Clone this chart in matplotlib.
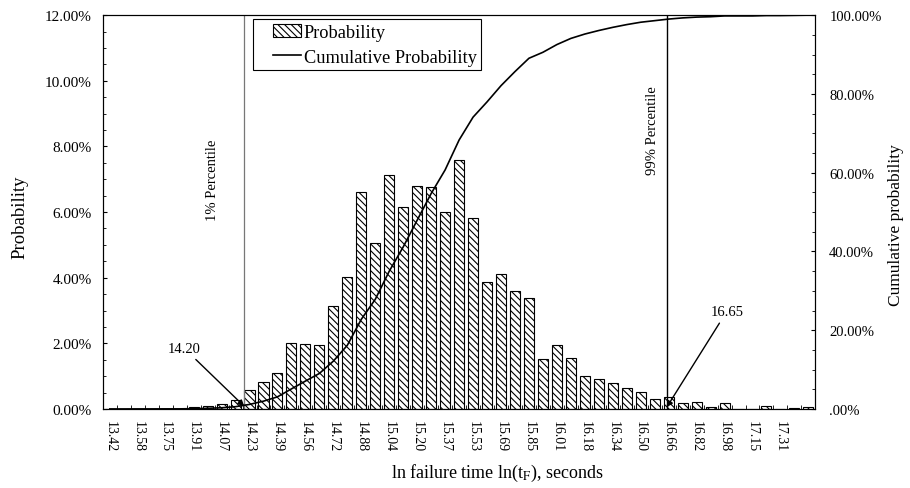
import numpy as np
import matplotlib
matplotlib.use("Agg")
import matplotlib.pyplot as plt
from matplotlib.ticker import MultipleLocator
from matplotlib.legend_handler import HandlerPatch, HandlerLine2D

plt.rcParams['font.family'] = ['Liberation Serif', 'DejaVu Serif']
plt.rcParams['mathtext.fontset'] = 'stix'
plt.rcParams['hatch.linewidth'] = 0.8

# x tick labels (every second bin), bin width from the first and last label
tick_labels = ['13.42', '13.58', '13.75', '13.91', '14.07', '14.23', '14.39', '14.56',
               '14.72', '14.88', '15.04', '15.20', '15.37', '15.53', '15.69', '15.85',
               '16.01', '16.18', '16.34', '16.50', '16.66', '16.82', '16.98', '17.15', '17.31']
n_bins = 51

# probability per bin (%)
probability = [0.01, 0.00, 0.01, 0.00, 0.01, 0.00, 0.05, 0.09, 0.14, 0.27,
               0.58, 0.82, 1.10, 2.02, 1.98, 1.94, 3.13, 4.02, 6.60, 5.07,
               7.14, 6.16, 6.80, 6.76, 6.00, 7.59, 5.81, 3.87, 4.12, 3.58,
               3.38, 1.52, 1.96, 1.56, 1.00, 0.90, 0.80, 0.64, 0.52, 0.31,
               0.37, 0.18, 0.22, 0.06, 0.17, 0.01, 0.01, 0.10, 0.01, 0.03,
               0.07]

# cumulative probability (%)
cumulative = [0.01, 0.01, 0.02, 0.02, 0.03, 0.03, 0.08, 0.17, 0.31, 0.58,
              1.16, 1.98, 3.08, 5.10, 7.08, 9.02, 12.15, 16.17, 22.77, 27.84,
              34.98, 41.14, 47.94, 54.70, 60.70, 68.29, 74.10, 77.97, 82.09, 85.67,
              89.05, 90.57, 92.53, 94.09, 95.20, 96.10, 96.90, 97.60, 98.20, 98.60,
              99.00, 99.30, 99.50, 99.60, 99.80, 99.80, 99.80, 99.90, 99.90, 99.95,
              100.0]

p_low, p_high = 14.20, 16.65

first = float(tick_labels[0])
step = (float(tick_labels[-1]) - first) / (2 * (len(tick_labels) - 1))
x = first + step * np.arange(n_bins)

fig, ax = plt.subplots(figsize=(9.1, 4.89), dpi=100)
fig.subplots_adjust(left=0.113, right=0.896, top=0.967, bottom=0.1616)

bars = ax.bar(x, probability, width=step * 0.72, color='white', edgecolor='black',
              linewidth=0.8, hatch='\\\\\\\\\\', label='Probability')
ax.set_xlim(x[0] - step / 2, x[-1] + step / 2)
ax.set_ylim(0, 12)
ax.set_yticks(np.arange(0, 13, 2))
ax.set_yticklabels(['%.2f%%' % v for v in np.arange(0, 13, 2)], fontsize=11)
ax.yaxis.set_minor_locator(MultipleLocator(0.5))
ax.set_xticks(x[:2 * len(tick_labels):2])
ax.set_xticklabels(tick_labels, rotation=-90, fontsize=10)
ax.set_xticks(x[:-1] + step / 2, minor=True)
ax.tick_params(axis='x', which='major', direction='in', length=0, pad=8)
ax.tick_params(axis='x', which='minor', direction='in', length=3)
ax.tick_params(axis='y', which='major', direction='in', length=3, pad=8)
ax.tick_params(axis='y', which='minor', direction='in', length=2)
ax.set_ylabel('Probability', fontsize=13.5)
ax.yaxis.set_label_coords(-0.104, 0.49)
ax.set_xlabel(r'ln failure time ln(t$_\mathrm{F}$), seconds', fontsize=13)
ax.xaxis.set_label_coords(0.554, -0.135)

ax2 = ax.twinx()
line, = ax2.plot(x, cumulative, color='black', linewidth=1.2, label='Cumulative Probability')
ax2.set_ylim(0, 100)
ax2.set_yticks(np.arange(0, 101, 20))
ax2.set_yticklabels(['.00%'] + ['%.2f%%' % v for v in np.arange(20, 101, 20)], fontsize=10.5)
ax2.yaxis.set_minor_locator(MultipleLocator(5))
ax2.tick_params(axis='y', which='major', direction='in', length=3, pad=10)
ax2.tick_params(axis='y', which='minor', direction='in', length=2)
ax2.set_ylabel('Cumulative probability', fontsize=12.5)
ax2.yaxis.set_label_coords(1.102, 0.47)

# percentile lines
ax.axvline(p_low, color='#777777', linewidth=0.9)
ax.axvline(p_high, color='black', linewidth=1.0)
ax.text(p_low - step * 2.3, 7.0, '1% Percentile', rotation=90, ha='center', va='center', fontsize=10.5)
ax.text(p_high - step * 1.0, 8.5, '99% Percentile', rotation=90, ha='center', va='center', fontsize=10.5)

arrow = dict(arrowstyle='-|>', color='black', linewidth=1.0, mutation_scale=9,
             shrinkA=2, shrinkB=0)
ax.annotate('%.2f' % p_low, xy=(p_low, 0.08), xytext=(p_low - step * 4.3, 1.85),
            ha='center', va='center', fontsize=10.5, arrowprops=arrow)
ax.annotate('%.2f' % p_high, xy=(p_high, 0.05), xytext=(p_high + step * 4.3, 2.97),
            ha='center', va='center', fontsize=10.5, arrowprops=arrow)

bar_handle = bars.patches[0]
leg = ax.legend([bar_handle, line], ['Probability', 'Cumulative Probability'],
                loc='upper left', bbox_to_anchor=(0.211, 0.99), borderaxespad=0,
                fontsize=13.2, frameon=True, fancybox=False, edgecolor='black',
                framealpha=1, borderpad=0.25, labelspacing=0.45, handlelength=2.35,
                handletextpad=0.16,
                handler_map={bar_handle: HandlerPatch(xpad=0.85),
                             line: HandlerLine2D(xpad=0.85)})
leg.get_frame().set_linewidth(0.8)

plt.savefig('out.png', dpi=100)
